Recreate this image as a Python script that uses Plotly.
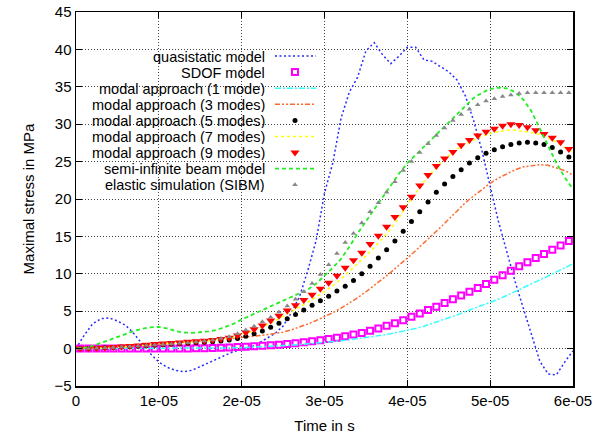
import plotly.graph_objects as go

# time grids (microseconds -> seconds)
t_line = [k * 1e-6 for k in range(61)]
t_mark = [(k + 0.5) * 1e-6 for k in range(60)]

names = [
    "quasistatic model",
    "SDOF model",
    "modal approach (1 mode)",
    "modal approach (3 modes)",
    "modal approach (5 modes)",
    "modal approach (7 modes)",
    "modal approach (9 modes)",
    "semi-infinite beam model",
    "elastic simulation (SIBM)",
]

quasistatic = [0, 1.8, 3.3, 4.0, 4.1, 3.7, 3.1, 2.0, 0.6, -0.7,
               -1.8, -2.5, -2.9, -3.1, -2.9, -2.4, -1.8, -1.3, -0.8, -0.4,
               -0.1, 0.1, 0.7, 1.3, 2.0, 3.0, 4.8, 7.0, 10.5, 14.5,
               20.8, 24.8, 30.8, 34.3, 36.3, 39.8, 40.9, 39.3, 38.1, 39.1,
               40.3, 40.3, 38.6, 38.4, 37.7, 37.0, 35.9, 33.8, 30.5, 26.5,
               21.7, 17.0, 13.0, 9.0, 5.4, 1.7, -1.7, -3.4, -3.5, -1.8, -0.3]

sdof = [0, 0, 0, 0, 0, 0, 0, 0, 0, 0,
        0, 0, 0.01, 0.02, 0.04, 0.06, 0.08, 0.11, 0.15, 0.2,
        0.25, 0.3, 0.37, 0.45, 0.53, 0.62, 0.72, 0.84, 0.97, 1.12,
        1.28, 1.45, 1.65, 1.87, 2.1, 2.4, 2.7, 3.05, 3.4, 3.8,
        4.25, 4.7, 5.15, 5.6, 6.1, 6.6, 7.1, 7.6, 8.1, 8.65,
        9.2, 9.8, 10.4, 11.0, 11.55, 12.1, 12.65, 13.2, 13.8, 14.4]

mode1 = [0, 0, 0, 0, 0, 0, 0, 0, 0, 0,
         0, 0, 0, 0, 0, 0.02, 0.03, 0.05, 0.07, 0.1,
         0.13, 0.17, 0.21, 0.26, 0.32, 0.39, 0.46, 0.54, 0.63, 0.72,
         0.82, 0.93, 1.05, 1.18, 1.32, 1.47, 1.63, 1.8, 2.0, 2.2,
         2.45, 2.7, 3.0, 3.35, 3.7, 4.1, 4.5, 4.95, 5.35, 5.75,
         6.1, 6.6, 7.1, 7.6, 8.1, 8.6, 9.15, 9.7, 10.25, 10.8, 11.35]

mode3 = [0, 0.02, 0.05, 0.1, 0.15, 0.2, 0.28, 0.35, 0.42, 0.5,
         0.58, 0.66, 0.74, 0.82, 0.9, 0.98, 1.06, 1.15, 1.24, 1.35,
         1.45, 1.57, 1.7, 1.85, 2.02, 2.2, 2.5, 2.85, 3.3, 3.75,
         4.25, 4.8, 5.4, 6.05, 6.8, 7.6, 8.4, 9.3, 10.2, 11.1,
         12.1, 13.1, 14.1, 15.1, 16.2, 17.3, 18.4, 19.5, 20.4, 21.3,
         22.1, 22.8, 23.4, 23.9, 24.3, 24.5, 24.6, 24.5, 24.2, 23.8, 23.2]

mode5 = [0, 0.02, 0.05, 0.1, 0.15, 0.2, 0.26, 0.32, 0.38, 0.45,
         0.52, 0.58, 0.64, 0.7, 0.77, 0.85, 0.93, 1.03, 1.15, 1.35,
         1.65, 2.0, 2.35, 2.85, 3.4, 4.0, 4.55, 5.15, 5.8, 6.4,
         7.0, 7.7, 8.35, 9.1, 10.0, 11.0, 12.1, 13.2, 14.4, 15.7,
         17.0, 18.3, 19.6, 20.9, 22.0, 23.0, 23.9, 24.8, 25.5, 26.1,
         26.6, 27.0, 27.3, 27.5, 27.6, 27.5, 27.3, 26.9, 26.3, 25.6]

mode7 = [0, 0.01, 0.04, 0.08, 0.13, 0.18, 0.25, 0.32, 0.4, 0.48,
         0.56, 0.64, 0.72, 0.8, 0.88, 0.96, 1.05, 1.15, 1.3, 1.5,
         1.8, 2.2, 2.65, 3.15, 3.7, 4.3, 4.9, 5.55, 6.2, 6.9,
         7.6, 8.4, 9.3, 10.3, 11.3, 12.4, 13.5, 14.7, 16.0, 17.5,
         19.3, 20.8, 22.3, 23.6, 24.8, 25.8, 26.7, 27.3, 27.9, 28.4,
         28.8, 29.05, 29.2, 29.2, 29.1, 28.9, 28.6, 28.2, 27.6, 26.9, 26.2]

mode9 = [0, 0.03, 0.08, 0.13, 0.2, 0.27, 0.35, 0.43, 0.52, 0.6,
         0.68, 0.76, 0.83, 0.9, 0.97, 1.05, 1.15, 1.27, 1.45, 1.75,
         2.15, 2.6, 3.1, 3.75, 4.4, 5.1, 5.8, 6.5, 7.2, 8.0,
         8.8, 9.75, 10.8, 11.8, 12.8, 14.0, 15.1, 16.3, 17.6, 18.9,
         20.3, 21.8, 23.2, 24.4, 25.4, 26.3, 27.2, 27.9, 28.5, 29.0,
         29.4, 29.8, 30.0, 29.9, 29.6, 29.2, 28.7, 28.2, 27.6, 26.7]

semi_inf = [0, 0.1, 0.35, 0.75, 1.2, 1.6, 2.0, 2.35, 2.65, 2.85,
            2.9, 2.7, 2.35, 2.15, 2.1, 2.15, 2.3, 2.5, 2.85, 3.3,
            3.9, 4.4, 4.9, 5.35, 5.85, 6.3, 6.8, 7.3, 7.9, 8.7,
            9.7, 10.8, 12.0, 13.6, 15.4, 17.0, 18.6, 20.2, 21.8, 23.4,
            24.8, 25.9, 27.0, 28.1, 29.2, 30.3, 31.4, 32.5, 33.5, 34.2,
            34.7, 34.9, 34.8, 34.3, 33.3, 31.7, 29.4, 27.0, 24.8, 22.9, 21.3]

sibm = [0, 0.02, 0.06, 0.1, 0.15, 0.2, 0.27, 0.34, 0.41, 0.48,
        0.55, 0.62, 0.7, 0.78, 0.88, 1.0, 1.15, 1.35, 1.6, 2.0,
        2.5, 3.0, 3.6, 4.2, 4.9, 5.7, 6.6, 7.6, 8.7, 9.9,
        11.2, 12.7, 14.2, 15.4, 16.8, 18.3, 19.5, 20.9, 22.3, 23.8,
        25.0, 26.2, 27.4, 28.5, 29.5, 30.5, 31.3, 32.0, 32.6, 33.1,
        33.4, 33.7, 33.9, 34.1, 34.2, 34.2, 34.2, 34.2, 34.2, 34.2]

x_tickvals = [0, 1e-5, 2e-5, 3e-5, 4e-5, 5e-5, 6e-5]
x_ticktext = ["0", "1e-05", "2e-05", "3e-05", "4e-05", "5e-05", "6e-05"]
y_tickvals = [-5, 0, 5, 10, 15, 20, 25, 30, 35, 40, 45]

styles = [
    dict(mode="lines", line=dict(color="#2a2aff", dash="2px,2.5px", width=1.5)),
    dict(mode="markers", marker=dict(symbol="square-open", color="#ff00ff", size=6,
                                     line=dict(width=2, color="#ff00ff"))),
    dict(mode="lines", line=dict(color="#33ffff", dash="6px,2px,2px,2px", width=1.5)),
    dict(mode="lines", line=dict(color="#ff6a30", dash="5px,2px,2px,2px,2px,2px", width=1.5)),
    dict(mode="markers", marker=dict(symbol="circle", color="#000000", size=5)),
    dict(mode="lines", line=dict(color="#ffff00", dash="3px,3px", width=1.5)),
    dict(mode="markers", marker=dict(symbol="triangle-down", color="#ff0000", size=8,
                                     line=dict(width=0))),
    dict(mode="lines", line=dict(color="#22ee22", dash="4px,3px", width=1.8)),
    dict(mode="markers", marker=dict(symbol="triangle-up", color="#888888", size=5,
                                     line=dict(width=0))),
]
series = [quasistatic, sdof, mode1, mode3, mode5, mode7, mode9, semi_inf, sibm]

fig = go.Figure()
for name, vals, st in zip(names, series, styles):
    xs = t_line if st["mode"] == "lines" else t_mark
    fig.add_trace(go.Scatter(x=xs, y=vals, name=name, showlegend=False,
                             hoverinfo="skip", cliponaxis=True, **st))

FS = 15
LFS = 14.5
# target plot rectangle in screen pixels (page body margin removed below)
L, R, T, B = 76, 573, 12, 386
pw, ph = R - L, B - T
row0, step = 56, 16.1
for i, (name, st) in enumerate(zip(names, styles)):
    yp = (B - (row0 + i * step)) / ph
    fig.add_annotation(x=(267 - L) / pw, y=yp, xref="paper", yref="paper",
                       text=name, showarrow=False, xanchor="right", yanchor="middle",
                       height=15, valign="middle",
                       font=dict(size=LFS, color="#000000"))
    if st["mode"] == "lines":
        fig.add_trace(go.Scatter(x=[(275 - L) / pw, (316 - L) / pw], y=[yp, yp],
                                 xaxis="x2", yaxis="y2", showlegend=False,
                                 hoverinfo="skip", **st))
    else:
        fig.add_trace(go.Scatter(x=[(295 - L) / pw], y=[yp],
                                 xaxis="x2", yaxis="y2", showlegend=False,
                                 hoverinfo="skip", **st))

axis_common = dict(showline=True, linecolor="#000000", linewidth=1.5, mirror="allticks",
                   ticks="inside", ticklen=6, tickcolor="#000000", tickwidth=1,
                   showgrid=True, gridcolor="#444444", griddash="1px,2px", gridwidth=1,
                   zeroline=False, automargin=False,
                   tickfont=dict(size=FS, color="#000000"))

fig.update_layout(
    width=612, height=434,
    margin=dict(l=L, r=612 - R, t=T, b=434 - B),
    paper_bgcolor="white", plot_bgcolor="white",
    font=dict(family="Liberation Sans, Arial, sans-serif", size=FS, color="#000000"),
    xaxis=dict(range=[0, 6e-5], tickvals=x_tickvals, ticktext=x_ticktext,
               title=dict(text="Time in s", standoff=13, font=dict(size=FS)), **axis_common),
    yaxis=dict(range=[-5, 45], tickvals=y_tickvals,
               title=dict(text="Maximal stress in MPa", standoff=16, font=dict(size=FS)),
               **axis_common),
    xaxis2=dict(overlaying="x", range=[0, 1], visible=False),
    yaxis2=dict(overlaying="y", range=[0, 1], visible=False),
    showlegend=False,
)

fig.write_html("out.html", config={"displayModeBar": False, "staticPlot": True},
               post_script="document.body.style.margin='0';document.body.style.overflow='hidden';")
